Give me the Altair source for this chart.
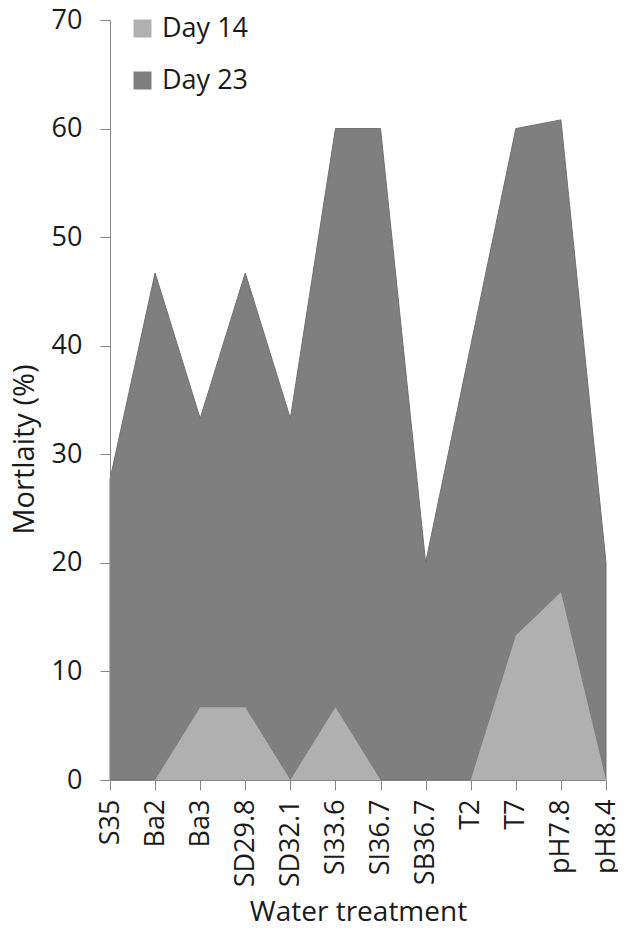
import altair as alt
import pandas as pd

treatments = ["S35", "Ba2", "Ba3", "SD29.8", "SD32.1", "SI33.6", "SI36.7",
              "SB36.7", "T2", "T7", "pH7.8", "pH8.4"]
day14 = [0, 0, 6.7, 6.7, 0, 6.7, 0, 0, 0, 13.3, 17.3, 0]
day23 = [27.7, 46.7, 33.3, 46.7, 33.3, 60, 60, 20, 40, 60, 60.8, 20]
series_names = ["Day 14", "Day 23"]
series_colors = ["#b0b0b0", "#7f7f7f"]

rows = []
for t, v in zip(treatments, day14):
    rows.append({"treatment": t, "value": v, "series": "Day 14"})
for t, v in zip(treatments, day23):
    rows.append({"treatment": t, "value": v, "series": "Day 23"})
df = pd.DataFrame(rows)

FONT = "Open Sans"

x_enc = alt.X("treatment:N", sort=treatments,
              scale=alt.Scale(type="point", padding=0),
              axis=alt.Axis(title="Water treatment", labelAngle=270,
                            labelAlign="right", labelBaseline="middle",
                            labelFontSize=27, titleFontSize=28,
                            labelPadding=9, tickSize=10, titlePadding=12,
                            domainColor="#868686", tickColor="#868686",
                            labelColor="#1a1a1a", titleColor="#1a1a1a",
                            titleFontWeight="normal", zindex=1))
y_enc = alt.Y("value:Q", stack=None,
              scale=alt.Scale(domain=[0, 70], nice=False),
              axis=alt.Axis(title="Mortlaity (%)", values=[0, 10, 20, 30, 40, 50, 60, 70],
                            grid=False, labelFontSize=27, titleFontSize=29,
                            labelPadding=18, tickSize=10,
                            titleX=-86, titleY=429, titleAngle=270,
                            titleAlign="center", titleBaseline="middle",
                            domainColor="#868686", tickColor="#868686",
                            labelColor="#1a1a1a", titleColor="#1a1a1a",
                            titleFontWeight="normal", zindex=1))
color_scale = alt.Scale(domain=series_names, range=series_colors)

back = alt.Chart(df).transform_filter(alt.datum.series == "Day 23").mark_area(
    stroke="#707070", strokeWidth=1
).encode(
    x=x_enc, y=y_enc,
    color=alt.Color("series:N", scale=color_scale,
                    legend=alt.Legend(title=None, orient="none", legendX=19, legendY=-5,
                                      symbolType="square", symbolSize=324,
                                      symbolStrokeWidth=0, labelFontSize=27,
                                      labelColor="#1a1a1a", labelOffset=6,
                                      rowPadding=24, padding=0))
)
front = alt.Chart(df).transform_filter(alt.datum.series == "Day 14").mark_area().encode(
    x=x_enc, y=y_enc,
    color=alt.Color("series:N", scale=color_scale)
)

chart = alt.layer(back, front).properties(
    width=496, height=760,
    autosize=alt.AutoSizeParams(type="none"),
    padding={"left": 102, "top": 12, "right": 12, "bottom": 149}
).configure(font=FONT).configure_view(stroke=None)

chart.save("out.html", embed_options={"renderer": "svg", "actions": False})
